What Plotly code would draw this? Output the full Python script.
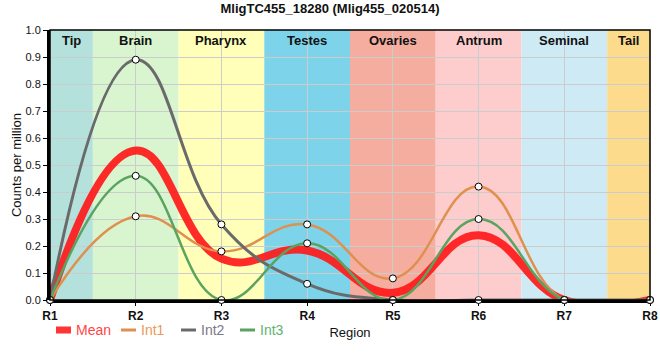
import plotly.graph_objects as go

regions = ["R1", "R2", "R3", "R4", "R5", "R6", "R7", "R8"]
int1 = [0, 0.31, 0.18, 0.28, 0.08, 0.42, 0, 0]
int2 = [0, 0.89, 0.28, 0.06, 0, 0, 0, 0]
int3 = [0, 0.46, 0, 0.21, 0, 0.30, 0, 0]
mean = [round((a + b + c) / 3, 4) for a, b, c in zip(int1, int2, int3)]

band_names = ["Tip", "Brain", "Pharynx", "Testes", "Ovaries", "Antrum", "Seminal", "Tail"]
band_edges = [0, 0.5, 1.5, 2.5, 3.5, 4.5, 5.5, 6.5, 7]
band_colors = ["#b4e1dc", "#d9f5d0", "#ffffb9", "#7dd3ea", "#f5ada0", "#fdcccc", "#ceebf5", "#fddb8c"]

x = list(range(len(regions)))

# body margin is removed in the page, so plot area sits at x 50..650, y 30..300
W, H = 660, 360
ML, MR, MT, MB = 50, 10, 30, 60
PW, PH = W - ML - MR, H - MT - MB


def px_x(p):  # page pixel x -> paper x
    return (p - ML) / PW


def px_y(p):  # page pixel y -> paper y
    return 1 - (p - MT) / PH


fig = go.Figure()

shapes = []
annotations = []
for i, name in enumerate(band_names):
    x0, x1 = band_edges[i], band_edges[i + 1]
    shapes.append(dict(type="rect", xref="x", yref="paper", x0=x0, x1=x1, y0=0, y1=1,
                       fillcolor=band_colors[i], line_width=0, layer="below"))
    annotations.append(dict(x=(x0 + x1) / 2, y=1, xref="x", yref="paper", yanchor="top",
                            text="<b>%s</b>" % name, showarrow=False, yshift=-1,
                            font=dict(size=13, color="#111", family="Liberation Sans, Arial")))

series = [
    (mean, "Mean", "rgba(255,25,25,0.92)", "#ff4545", 8, False, 56),
    (int1, "Int1", "#e0904e", "#eb985a", 2.5, True, 121),
    (int2, "Int2", "#6a6a6a", "#787888", 3, True, 181),
    (int3, "Int3", "#5aa360", "#62b272", 2.5, True, 240),
]

for vals, name, color, tcolor, width, markers, lx in series:
    fig.add_trace(go.Scatter(
        x=x, y=vals, name=name, mode="lines", showlegend=False,
        line=dict(color=color, width=width, shape="spline", smoothing=1.25),
    ))
for vals, name, color, tcolor, width, markers, lx in series:
    if markers:
        fig.add_trace(go.Scatter(
            x=x, y=vals, mode="markers", showlegend=False,
            marker=dict(size=7, color="white", line=dict(color="black", width=1)),
            cliponaxis=False,
        ))

# custom legend (short line symbols + coloured names)
ly = 330
for vals, name, color, tcolor, width, markers, lx in series:
    lw = 7 if name == "Mean" else 3
    shapes.append(dict(type="line", xref="paper", yref="paper",
                       x0=px_x(lx), x1=px_x(lx + 15), y0=px_y(ly), y1=px_y(ly),
                       line=dict(color=color if name != "Mean" else "#ff3535", width=lw)))
    annotations.append(dict(x=px_x(lx + 18), y=px_y(ly), xref="paper", yref="paper",
                            xanchor="left", yanchor="middle", text=name, showarrow=False,
                            font=dict(size=14, color=tcolor, family="Liberation Sans, Arial")))

fig.update_layout(
    width=W, height=H,
    margin=dict(l=ML, r=MR, t=MT, b=MB, autoexpand=False),
    paper_bgcolor="white", plot_bgcolor="white",
    title=dict(text="<b>MligTC455_18280 (Mlig455_020514)</b>", x=330 / W, xanchor="center",
               y=0.99, yanchor="top", font=dict(size=13, color="#111", family="Liberation Sans, Arial")),
    shapes=shapes, annotations=annotations,
    showlegend=False,
    font=dict(family="Liberation Sans, Arial", color="#111"),
)

fig.update_xaxes(
    range=[0, 7], tickvals=x, ticktext=["<b>%s</b>" % r for r in regions],
    showgrid=True, gridcolor="#cccccc", gridwidth=1, layer="below traces",
    showline=True, linecolor="black", linewidth=3, mirror=False,
    ticks="outside", ticklen=3, tickcolor="black",
    tickfont=dict(size=12, color="#111"), ticklabeloverflow="allow",
    title=dict(text="Region", font=dict(size=13, color="#111"), standoff=6),
    zeroline=False, automargin=False,
)
fig.update_yaxes(
    range=[0, 1.0], dtick=0.1, tickformat=".1f",
    showgrid=True, gridcolor="#cccccc", gridwidth=1,
    showline=True, linecolor="black", linewidth=3,
    ticks="outside", ticklen=4, tickcolor="black",
    tickfont=dict(size=11, color="#111"),
    title=dict(text="Counts per million", font=dict(size=13, color="#111"), standoff=1),
    zeroline=False, automargin=False,
)
fig.add_shape(type="rect", xref="paper", yref="paper", x0=0, x1=1, y0=0, y1=1,
              line=dict(color="black", width=1.5), fillcolor="rgba(0,0,0,0)", layer="above")

fig.write_html("out.html", config={"displayModeBar": False},
               post_script="document.body.style.margin='0px';")
